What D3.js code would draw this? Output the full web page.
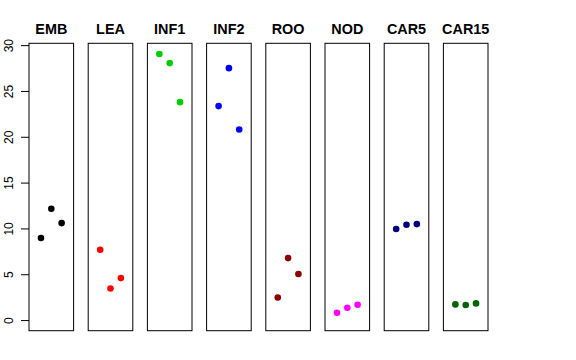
<!DOCTYPE html>
<html>
<head>
<meta charset="utf-8">
<script src="https://cdn.jsdelivr.net/npm/d3@7"></script>
<style>
  body { margin: 0; background: #fff; }
  text { font-family: "Liberation Sans", Arial, sans-serif; }
</style>
</head>
<body>
<div id="chart-area"></div>
<script>
// tissues, one panel each
var tissues = ["EMB", "LEA", "INF1", "INF2", "ROO", "NOD", "CAR5", "CAR15"];
var colors = ["#000000", "#ff0000", "#00cd00", "#0000ff", "#8b0000", "#ff00ff", "#000080", "#006400"];

// three replicates per tissue
var rep1 = [8.95, 7.67, 29.04, 23.35, 2.47, 0.80, 9.93, 1.71];
var rep2 = [12.15, 3.45, 28.04, 27.49, 6.76, 1.35, 10.40, 1.64];
var rep3 = [10.58, 4.58, 23.78, 20.80, 5.02, 1.67, 10.47, 1.82];

var yTicks = [0, 5, 10, 15, 20, 25, 30];

var svg = d3.select("#chart-area").append("svg")
    .attr("width", 576)
    .attr("height", 360);

var panelW = 44.6;
var plotTop = 43.3, plotBottom = 330.7;

var panelX = d3.scaleLinear().domain([0, tissues.length - 1]).range([29, 443.4]);
var x = d3.scaleLinear().domain([-0.16, 4.16]).range([0, panelW]);
var y = d3.scaleLinear().domain([-1.16, 30.2]).range([plotBottom, plotTop]);

// y axis
var yAxis = svg.append("g")
    .attr("transform", "translate(29,0)")
    .call(d3.axisLeft(y).tickValues(yTicks).tickSize(8));
yAxis.select(".domain").remove();
yAxis.selectAll("line").attr("stroke", "#000");
yAxis.selectAll("text")
    .attr("x", null)
    .attr("dy", 0)
    .attr("text-anchor", "middle")
    .attr("transform", "translate(-16,0) rotate(-90)")
    .attr("font-size", 12)
    .attr("fill", "#000")
    .style("font-family", "Liberation Sans, Arial, sans-serif");

tissues.forEach((t, i) => {
    var g = svg.append("g")
        .attr("transform", "translate(" + panelX(i) + ",0)");

    g.append("rect")
        .attr("x", 0)
        .attr("y", plotTop)
        .attr("width", panelW)
        .attr("height", plotBottom - plotTop)
        .attr("fill", "none")
        .attr("stroke", "#000")
        .attr("stroke-width", 1);

    g.append("text")
        .attr("x", panelW / 2)
        .attr("y", 34)
        .attr("text-anchor", "middle")
        .attr("font-size", 14.4)
        .attr("font-weight", "bold")
        .text(t);

    var vals = [rep1[i], rep2[i], rep3[i]];
    vals.forEach((v, j) => {
        g.append("circle")
            .attr("cx", x(j + 1))
            .attr("cy", y(v))
            .attr("r", 3.3)
            .attr("fill", colors[i]);
    });
});
</script>
</body>
</html>
